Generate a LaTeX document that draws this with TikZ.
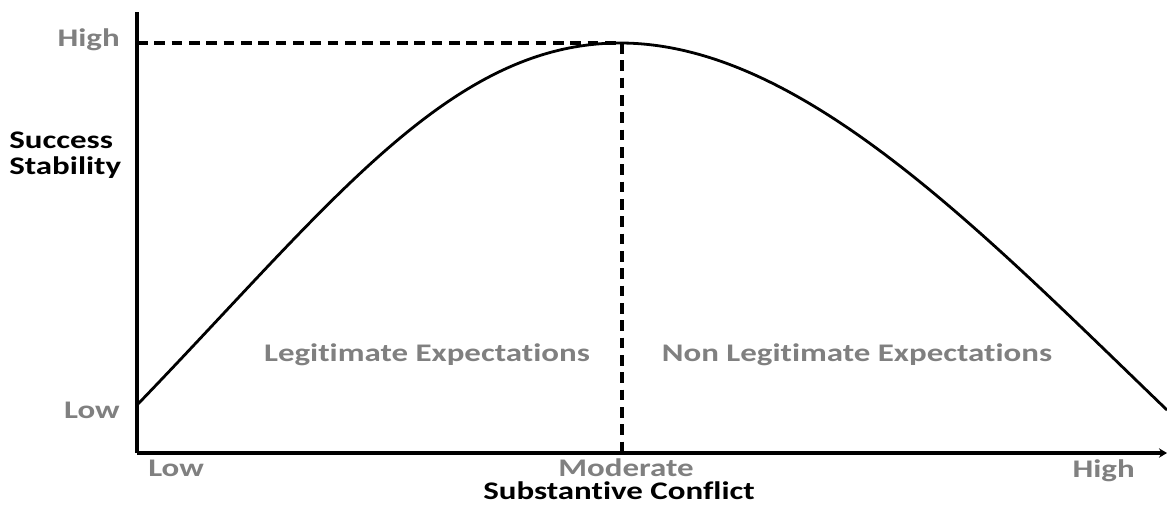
\documentclass[tikz,border=0pt]{standalone}
\usepackage{fontspec}
\setmainfont{Carlito}[Ligatures={NoCommon}, FakeStretch=1.3]
\usetikzlibrary{arrows.meta}
\definecolor{lblgray}{RGB}{128,128,128}
\tikzset{
  axis/.style={line width=2.4pt},
  curve/.style={line width=2.1pt},
  guide/.style={line width=2.6pt, dash pattern={on 8pt off 5pt}},
  tick/.style={font=\bfseries\fontsize{19}{22}\selectfont, text=lblgray, inner sep=0.75pt},
  title/.style={font=\bfseries\fontsize{19}{19.5}\selectfont, inner sep=0.75pt},
  flat/.style={text height=0.7em, text depth=0pt, inner sep=0pt, anchor=base}
}

\begin{document}
\begin{tikzpicture}[x=0.75pt,y=0.75pt,yscale=-1]
\useasboundingbox (0,0) rectangle (1167,512);

% Axes
\coordinate (O) at (137,453);
\coordinate (ytop) at (137,12);
\coordinate (xend) at (1167,453);
\draw [axis] (ytop) -- (O);
\draw [axis, -{Stealth[length=6pt,width=7pt]}] (O) -- (xend);

% Curve
\coordinate (start) at (137,405);
\coordinate (peak) at (620,43);
\coordinate (stop) at (1167,410);
\draw [curve] (start) .. controls (330,205) and (450,43) .. (peak) .. controls (800,43) and (980,230) .. (stop);

% Dashed guides
\coordinate (yhigh) at (137,43);
\coordinate (xmod) at (622,453);
\coordinate (top) at (622,43);
\draw [guide] (yhigh) -- (top);
\draw [guide] (top) -- (xmod);

% Text Node
\node (yhi) [tick, anchor=east] at (121,40) {High};
\node (ylo) [tick, anchor=east] at (121,410) {Low};
\node (ytitle) [title, anchor=west, align=left] at (8,155) {Success\\Stability};
% Text Node
\node (xlo) [tick, anchor=west] at (147,468) {Low};
\node (xmid) [tick, flat] at (626,476) {Moderate};
\node (xtitle) [title, flat] at (619,499) {Substantive Conflict};
\node (xhi) [tick, anchor=east] at (1136,471) {High};
% Text Node
\node (legit) [tick] at (427,355) {Legitimate Expectations};
\node (nonlegit) [tick] at (857,355) {Non Legitimate Expectations};

\end{tikzpicture}
\end{document}
